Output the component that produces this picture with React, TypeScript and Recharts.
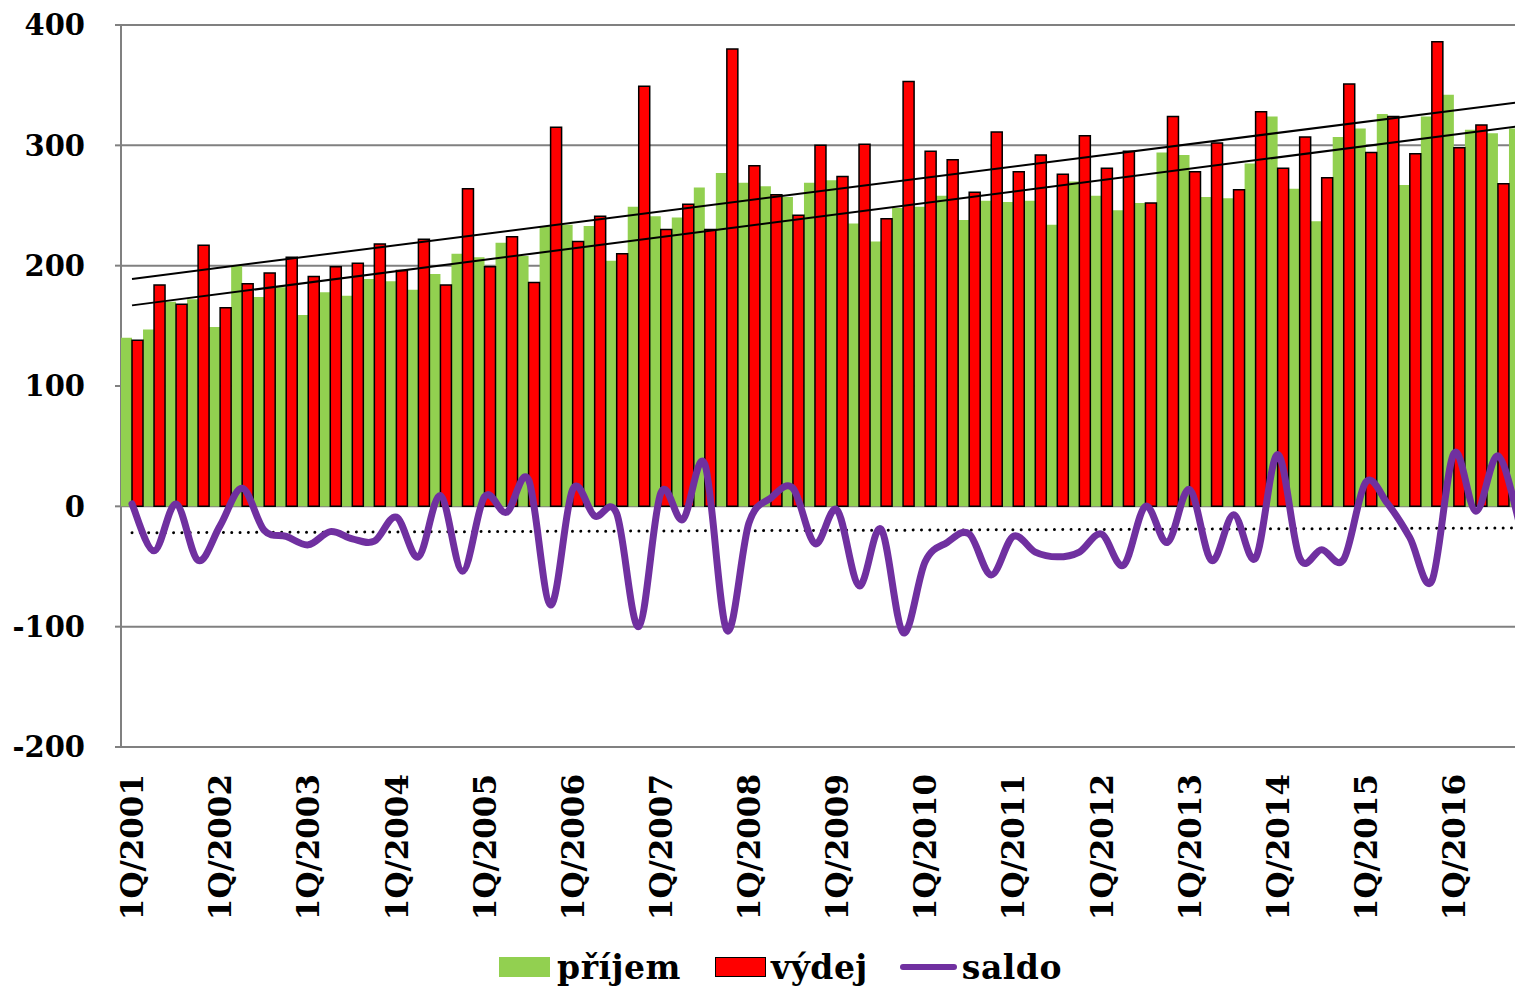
import React from 'react';
import {
  ComposedChart, Bar, Line, XAxis, YAxis, CartesianGrid
} from 'recharts';

// quarters 1Q/2001 .. 4Q/2016
const YEARS = [2001, 2002, 2003, 2004, 2005, 2006, 2007, 2008, 2009, 2010, 2011, 2012, 2013, 2014, 2015, 2016];
const QUARTERS = ['1Q', '2Q', '3Q', '4Q'];
const categories = YEARS.flatMap(y => QUARTERS.map(q => `${q}/${y}`));

const prijem = [
  140, 147, 170, 172, 149, 200, 174, 182, 159, 178, 175, 189, 187, 180, 193, 210,
  207, 219, 208, 233, 234, 233, 204, 249, 241, 240, 265, 277, 269, 266, 257, 269,
  271, 235, 220, 248, 249, 258, 238, 254, 253, 254, 234, 270, 258, 246, 252, 294,
  292, 257, 256, 285, 324, 264, 237, 307, 314, 326, 267, 324, 342, 313, 310, 314,
];

const vydej = [
  138, 184, 168, 217, 165, 185, 194, 207, 191, 199, 202, 218, 196, 222, 184, 264,
  199, 224, 186, 315, 220, 241, 210, 349, 230, 251, 230, 380, 283, 259, 242, 300,
  274, 301, 239, 353, 295, 288, 261, 311, 278, 292, 276, 308, 281, 295, 252, 324,
  278, 302, 263, 328, 281, 307, 273, 351, 294, 324, 293, 386, 298, 317, 268, 330,
];

const saldo = [
  2, -37, 2, -45, -16, 15, -20, -25, -32, -21, -27, -29, -9, -42, 9, -54,
  8, -5, 22, -82, 14, -8, -6, -100, 11, -11, 35, -103, -14, 7, 15, -31,
  -3, -66, -19, -105, -46, -30, -23, -57, -25, -38, -42, -38, -23, -49, 0, -30,
  14, -45, -7, -43, 43, -43, -36, -44, 20, 2, -26, -62, 44, -4, 42, -16,
];

// linear trend lines, value at first and last quarter
const trendPrijem = [167, 316];
const trendVydej = [189, 336];
const trendSaldo = [-22, -18];

const yTicks = [-200, -100, 0, 100, 200, 300, 400];
const gridTicks = [0, 4, 8, 12, 16, 20, 24, 28, 32, 36, 40, 44, 48, 52, 56, 60, 64];

const last = categories.length - 1;
const data = categories.map((name, i) => ({
  name,
  prijem: prijem[i],
  vydej: vydej[i],
  saldo: saldo[i],
  tP: i === 0 ? trendPrijem[0] : i === last ? trendPrijem[1] : null,
  tV: i === 0 ? trendVydej[0] : i === last ? trendVydej[1] : null,
  tS: i === 0 ? trendSaldo[0] : i === last ? trendSaldo[1] : null,
}));

const FONT = '"DejaVu Serif", serif';

// Excel-like smoothed line (Catmull-Rom as cubic bezier)
const smoothCurve = (context: any) => {
  let pts: number[][] = [];
  return {
    areaStart() {},
    areaEnd() {},
    lineStart() { pts = []; },
    point(x: number, y: number) { pts.push([+x, +y]); },
    lineEnd() {
      if (!pts.length) return;
      context.moveTo(pts[0][0], pts[0][1]);
      for (let i = 0; i < pts.length - 1; i++) {
        const p0 = pts[Math.max(i - 1, 0)];
        const p1 = pts[i];
        const p2 = pts[i + 1];
        const p3 = pts[Math.min(i + 2, pts.length - 1)];
        context.bezierCurveTo(
          p1[0] + (p2[0] - p0[0]) / 6, p1[1] + (p2[1] - p0[1]) / 6,
          p2[0] - (p3[0] - p1[0]) / 6, p2[1] - (p3[1] - p1[1]) / 6,
          p2[0], p2[1]
        );
      }
    },
  };
};

const QuarterTick = ({ x, y, payload }: any) => {
  if (!String(payload.value).startsWith('1Q')) return null;
  const ty = y + 19;
  return (
    <text
      x={x}
      y={ty}
      dy="0.36em"
      textAnchor="end"
      transform={`rotate(-90, ${x}, ${ty})`}
      fontFamily={FONT}
      fontWeight="bold"
      fontSize={31}
      fill="#000"
    >
      {payload.value}
    </text>
  );
};

const App: React.FC = () => {
  return (
    <div style={{ position: 'absolute', left: 0, top: 0, width: 1515, height: 988, overflow: 'hidden', background: '#fff' }}>
      <ComposedChart
        width={1545}
        height={988}
        data={data}
        margin={{ top: 25, right: 14, left: 0, bottom: 70 }}
        barCategoryGap={0}
        barGap={0}
      >
        <XAxis
          xAxisId="grid"
          type="number"
          domain={[0, 64]}
          ticks={gridTicks}
          allowDataOverflow
          height={0}
          tick={false}
          axisLine={false}
          tickLine={{ stroke: '#808080', strokeWidth: 2 }}
          tickSize={6}
        />
        <XAxis
          xAxisId="cat"
          dataKey="name"
          interval={0}
          height={171}
          axisLine={false}
          tickLine={false}
          tick={<QuarterTick />}
        />
        <YAxis
          domain={[-200, 400]}
          ticks={yTicks}
          width={121}
          axisLine={false}
          tickLine={{ stroke: '#808080', strokeWidth: 2 }}
          tickSize={6}
          tickMargin={30}
          tick={{ fontFamily: FONT, fontWeight: 'bold', fontSize: 29, fill: '#000' }}
        />
        <CartesianGrid xAxisId="grid" stroke="#808080" strokeWidth={2} />
        <Bar xAxisId="cat" dataKey="prijem" name="příjem" fill="#92D050" isAnimationActive={false} />
        <Bar xAxisId="cat" dataKey="vydej" name="výdej" fill="#FF0000" stroke="#000" strokeWidth={1.5} isAnimationActive={false} />
        <Line xAxisId="cat" dataKey="tV" stroke="#000" strokeWidth={2} dot={false} connectNulls legendType="none" isAnimationActive={false} />
        <Line xAxisId="cat" dataKey="tP" stroke="#000" strokeWidth={2} dot={false} connectNulls legendType="none" isAnimationActive={false} />
        <Line xAxisId="cat" dataKey="tS" stroke="#000" strokeWidth={3} strokeDasharray="0.01 8.3" strokeLinecap="round" dot={false} connectNulls legendType="none" isAnimationActive={false} />
        <Line xAxisId="cat" dataKey="saldo" name="saldo" type={smoothCurve as any} stroke="#7030A0" strokeWidth={7} strokeLinecap="round" dot={false} isAnimationActive={false} />
      </ComposedChart>

      {/* legend */}
      <div style={{
        position: 'absolute', left: 0, top: 947, width: 1561, height: 40,
        display: 'flex', justifyContent: 'center', alignItems: 'center',
        fontFamily: FONT, fontWeight: 'bold', fontSize: 33, letterSpacing: 0.5, color: '#000',
      }}>
        <div style={{ width: 51, height: 20, background: '#92D050', marginRight: 7 }} />
        <span style={{ marginRight: 34 }}>příjem</span>
        <div style={{ width: 49, height: 18, background: '#FF0000', border: '1px solid #000', marginRight: 5 }} />
        <span style={{ marginRight: 32 }}>výdej</span>
        <div style={{ width: 57, height: 6, background: '#7030A0', borderRadius: 3, marginRight: 5 }} />
        <span>saldo</span>
      </div>
    </div>
  );
};

export default App;
